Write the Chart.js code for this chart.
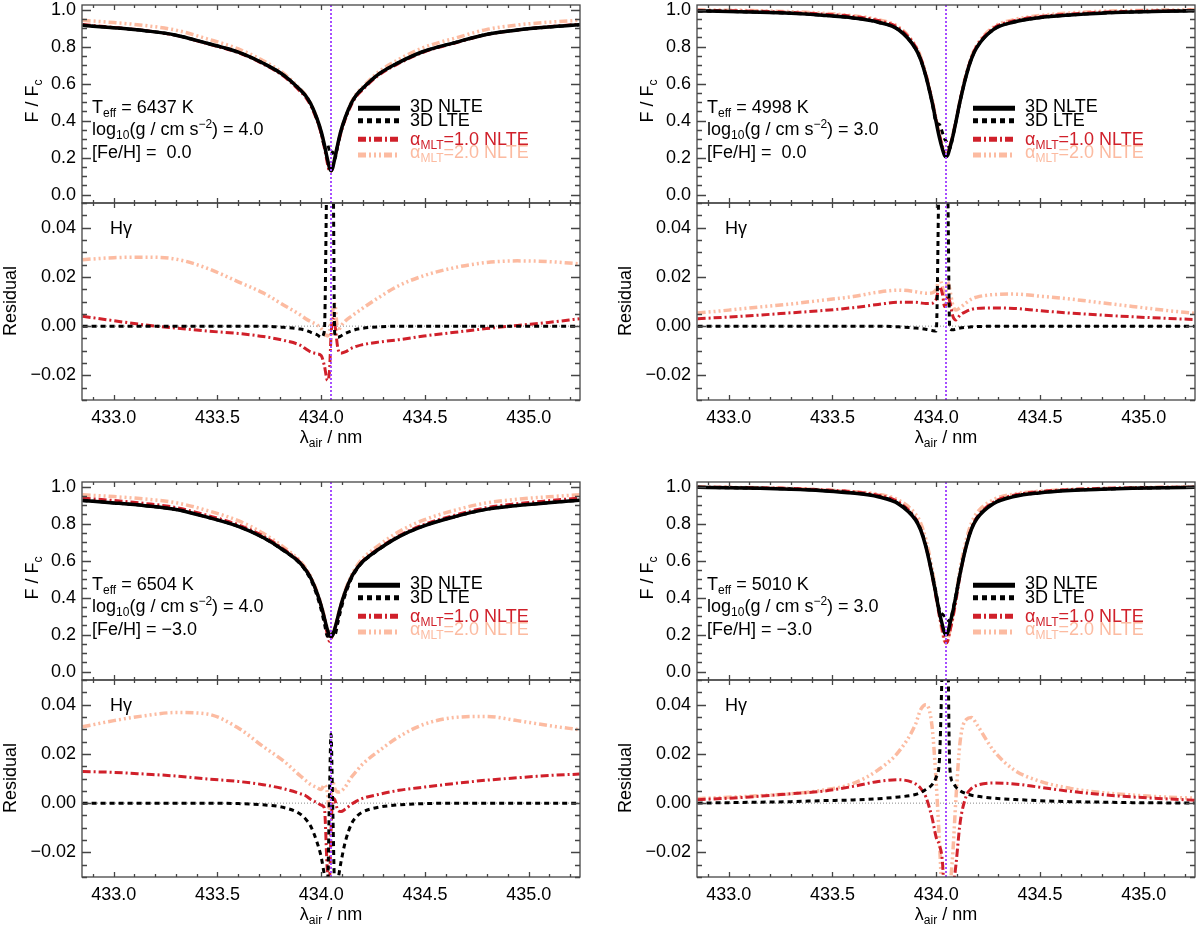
<!DOCTYPE html>
<html>
<head>
<meta charset="utf-8">
<title>H gamma line profiles</title>
<script src="https://cdn.jsdelivr.net/npm/chart.js@4.4.1/dist/chart.umd.min.js"></script>
<style>
  html, body { margin: 0; padding: 0; background: #fff; }
  body { width: 1200px; height: 927px; position: relative; overflow: hidden;
         font-family: "Liberation Sans", Arial, Helvetica, sans-serif; font-size: 18px; color: #000; }
  canvas { position: absolute; }
  .t   { position: absolute; white-space: nowrap; line-height: 1; transform: translateY(-50%); }
  .ctr { position: absolute; white-space: nowrap; line-height: 1; transform: translate(-50%, -50%); }
  .rot { position: absolute; white-space: nowrap; line-height: 1; transform: translate(-50%, -50%) rotate(-90deg); }
  sub { font-size: 12px; vertical-align: -4px; line-height: 0; }
  sup { font-size: 12px; vertical-align: 7px; line-height: 0; }
</style>
</head>
<body>
<script>
// wavelength grid, nm (air)
const lam = [432.85, 433.0, 433.15, 433.3, 433.45, 433.6, 433.72, 433.82, 433.9, 433.925, 433.95,
             433.98, 434.0, 434.015, 434.03, 434.04, 434.047, 434.055, 434.065, 434.08, 434.095, 434.115,
             434.145, 434.17, 434.195, 434.275, 434.375, 434.495, 434.645, 434.795, 434.945, 435.095, 435.245];
const lineCenter = 434.047;
const xMin = 432.847, xMax = 435.247;
const xTicks = [433.0, 433.5, 434.0, 434.5, 435.0];
const fluxTicks = [0.0, 0.2, 0.4, 0.6, 0.8, 1.0];
const residTicks = [-0.02, 0.0, 0.02, 0.04];
const fluxRange = [-0.045, 1.025];
const residRange = [-0.03, 0.05];

// stellar parameters of the four models
const teff = [6437, 4998, 6504, 5010];
const logg = [4.0, 3.0, 4.0, 3.0];
const feh = [0.0, 0.0, -3.0, -3.0];
const legendLabels = ['3D NLTE', '3D LTE', '&alpha;<sub>MLT</sub>=1.0 NLTE', '&alpha;<sub>MLT</sub>=2.0 NLTE'];

// --- model A: 6437 / 4.0 / 0.0
const nlteA = [0.915,0.902,0.886,0.862,0.818,0.77,0.71,0.645,0.565,0.535,0.49,
  0.41,0.34,0.27,0.19,0.145,0.13,0.145,0.195,0.275,0.345,0.415,
  0.495,0.54,0.57,0.65,0.715,0.775,0.822,0.866,0.89,0.906,0.918];
const lteA = [0.915,0.902,0.886,0.862,0.818,0.77,0.71,0.645,0.564,0.533,0.488,
  0.407,0.336,0.268,0.27,0.235,0.22,0.23,0.192,0.27,0.341,0.412,
  0.493,0.539,0.569,0.65,0.715,0.775,0.822,0.866,0.89,0.906,0.918];
const mlt1A = [0.919,0.904,0.887,0.861,0.816,0.767,0.706,0.639,0.557,0.526,0.48,
  0.399,0.328,0.254,0.168,0.127,0.126,0.148,0.196,0.266,0.334,0.405,
  0.486,0.532,0.562,0.644,0.71,0.771,0.82,0.865,0.89,0.908,0.921];
const mlt2A = [0.942,0.93,0.914,0.889,0.842,0.788,0.724,0.654,0.57,0.538,0.492,
  0.411,0.339,0.267,0.186,0.143,0.132,0.151,0.204,0.273,0.345,0.417,
  0.499,0.546,0.577,0.662,0.732,0.796,0.846,0.892,0.917,0.932,0.943];
const resLteA = [0,0,0,0,0,0,0,-0.0005,-0.0012,-0.0017,-0.0025,
  -0.0035,-0.0045,-0.002,0.08,0.09,0.09,0.085,-0.003,-0.0045,-0.004,-0.003,
  -0.002,-0.0013,-0.0009,-0.0003,0,0,0,0,0,0,0];
const resMlt1A = [0.004,0.0022,0.0005,-0.0008,-0.002,-0.003,-0.0042,-0.0058,-0.0078,-0.0092,-0.0105,
  -0.0112,-0.012,-0.016,-0.022,-0.018,-0.004,0.003,0.001,-0.009,-0.011,-0.0105,
  -0.009,-0.0082,-0.0076,-0.0065,-0.0055,-0.004,-0.0025,-0.001,0.0003,0.0015,0.003];
const resMlt2A = [0.027,0.0278,0.028,0.0272,0.0235,0.018,0.0135,0.0085,0.0045,0.003,0.0018,
  0.0005,-0.001,-0.003,-0.004,-0.002,0.002,0.006,0.009,-0.002,0.0,0.002,
  0.004,0.0055,0.007,0.0115,0.0165,0.0205,0.0238,0.0258,0.0265,0.0262,0.0253];

// --- model B: 4998 / 3.0 / 0.0
const nlteB = [0.993,0.99,0.986,0.98,0.97,0.955,0.932,0.89,0.79,0.73,0.64,
  0.5,0.39,0.31,0.245,0.212,0.205,0.213,0.25,0.315,0.395,0.505,
  0.645,0.735,0.795,0.892,0.933,0.956,0.971,0.981,0.987,0.991,0.994];
const lteB = [0.993,0.99,0.986,0.98,0.97,0.955,0.932,0.89,0.789,0.729,0.639,
  0.498,0.388,0.38,0.335,0.302,0.29,0.273,0.249,0.314,0.394,0.504,
  0.645,0.735,0.795,0.892,0.933,0.956,0.971,0.981,0.987,0.991,0.994];
const mlt1B = [0.996,0.994,0.991,0.985,0.976,0.963,0.941,0.9,0.8,0.739,0.649,
  0.509,0.401,0.326,0.258,0.22,0.214,0.225,0.26,0.319,0.398,0.51,
  0.651,0.742,0.802,0.899,0.94,0.962,0.976,0.986,0.991,0.994,0.997];
const mlt2B = [0.998,0.997,0.994,0.989,0.981,0.967,0.946,0.905,0.804,0.744,0.653,
  0.514,0.405,0.329,0.261,0.224,0.219,0.231,0.265,0.324,0.402,0.513,
  0.655,0.746,0.807,0.905,0.946,0.968,0.982,0.991,0.995,0.998,0.999];
const resLteB = [0,0,0,0,0,0,0,-0.0003,-0.0008,-0.001,-0.0013,
  -0.0018,-0.002,0.07,0.09,0.09,0.085,0.06,-0.001,-0.0015,-0.0012,-0.0008,
  -0.0005,-0.0003,-0.0002,0,0,0,0,0,0,0,0];
const resMlt1B = [0.003,0.0037,0.0045,0.0054,0.0063,0.0075,0.0088,0.0097,0.0097,0.0094,0.0092,
  0.0093,0.011,0.016,0.013,0.008,0.009,0.012,0.01,0.004,0.0025,0.0045,
  0.006,0.0068,0.0072,0.0074,0.0072,0.0063,0.0053,0.0045,0.0038,0.0032,0.0027];
const resMlt2B = [0.0053,0.0065,0.0078,0.009,0.0105,0.012,0.0138,0.0146,0.014,0.0136,0.0133,
  0.0135,0.015,0.019,0.016,0.012,0.014,0.018,0.015,0.0085,0.0065,0.0075,
  0.0095,0.011,0.0118,0.0128,0.013,0.0122,0.011,0.0095,0.008,0.0065,0.0052];

// --- model C: 6504 / 4.0 / -3.0
const nlteC = [0.925,0.912,0.897,0.876,0.835,0.785,0.725,0.655,0.585,0.55,0.505,
  0.425,0.355,0.29,0.225,0.195,0.19,0.197,0.23,0.295,0.36,0.43,
  0.51,0.555,0.59,0.66,0.73,0.788,0.838,0.877,0.898,0.913,0.926];
const lteC = [0.925,0.912,0.897,0.876,0.835,0.785,0.724,0.653,0.581,0.544,0.496,
  0.409,0.333,0.261,0.191,0.2,0.218,0.197,0.197,0.264,0.336,0.414,
  0.502,0.55,0.586,0.658,0.729,0.788,0.838,0.877,0.898,0.913,0.926];
const mlt1C = [0.938,0.925,0.909,0.887,0.845,0.794,0.733,0.661,0.589,0.553,0.507,
  0.425,0.354,0.288,0.197,0.164,0.178,0.199,0.232,0.292,0.357,0.428,
  0.51,0.556,0.592,0.664,0.735,0.795,0.846,0.886,0.908,0.924,0.938];
const mlt2C = [0.956,0.946,0.933,0.913,0.871,0.816,0.748,0.672,0.596,0.559,0.513,
  0.431,0.361,0.298,0.229,0.191,0.192,0.206,0.236,0.3,0.365,0.437,
  0.521,0.568,0.606,0.681,0.757,0.82,0.873,0.912,0.932,0.945,0.956];
const resLteC = [0,0,0,0,0,-0.0002,-0.0007,-0.0018,-0.0045,-0.0065,-0.0095,
  -0.016,-0.022,-0.029,-0.034,0.005,0.028,0.0,-0.033,-0.031,-0.024,-0.016,
  -0.0085,-0.0055,-0.0038,-0.0017,-0.0007,-0.0002,0,0,0,0,0];
const resMlt1C = [0.0128,0.0125,0.0118,0.011,0.0098,0.0088,0.0075,0.0058,0.0038,0.003,0.0015,
  0.0002,-0.0008,-0.002,-0.028,-0.031,-0.012,0.002,0.0015,-0.003,-0.0034,-0.0025,
  -0.0005,0.0008,0.0018,0.0035,0.0052,0.0065,0.008,0.0093,0.0103,0.0112,0.0118];
const resMlt2C = [0.031,0.0335,0.0355,0.0368,0.0362,0.0305,0.023,0.017,0.011,0.0092,0.0075,
  0.0063,0.0055,0.0075,0.004,-0.004,0.002,0.009,0.006,0.0045,0.0048,0.0065,
  0.0105,0.013,0.0155,0.021,0.027,0.032,0.0348,0.0352,0.0335,0.0315,0.0298];

// --- model D: 5010 / 3.0 / -3.0
const nlteD = [0.996,0.994,0.991,0.986,0.978,0.965,0.945,0.905,0.82,0.765,0.675,
  0.525,0.41,0.32,0.25,0.21,0.2,0.21,0.255,0.325,0.41,0.53,
  0.68,0.77,0.825,0.907,0.946,0.966,0.979,0.986,0.991,0.994,0.996];
const lteD = [0.996,0.994,0.991,0.987,0.979,0.966,0.947,0.908,0.824,0.769,0.681,
  0.533,0.421,0.337,0.31,0.3,0.29,0.28,0.27,0.334,0.417,0.535,
  0.684,0.773,0.828,0.909,0.948,0.967,0.98,0.986,0.991,0.994,0.996];
const mlt1D = [0.997,0.996,0.994,0.99,0.983,0.972,0.954,0.915,0.828,0.771,0.678,
  0.519,0.396,0.303,0.226,0.17,0.155,0.165,0.215,0.29,0.385,0.522,
  0.683,0.776,0.832,0.915,0.954,0.973,0.984,0.99,0.994,0.996,0.997];
const mlt2D = [0.998,0.996,0.994,0.99,0.983,0.973,0.959,0.926,0.852,0.803,0.715,
  0.556,0.418,0.305,0.21,0.165,0.155,0.17,0.22,0.305,0.412,0.555,
  0.714,0.805,0.857,0.929,0.96,0.975,0.985,0.99,0.994,0.997,0.998];
const resLteD = [0,0.0002,0.0004,0.0006,0.001,0.0013,0.0018,0.0025,0.0035,0.0043,0.0055,
  0.0075,0.0105,0.017,0.06,0.09,0.09,0.07,0.015,0.0085,0.0065,0.005,
  0.0038,0.0032,0.0028,0.002,0.0015,0.001,0.0006,0.0004,0.0002,0.0001,0];
const resMlt1D = [0.0014,0.002,0.0028,0.0038,0.0048,0.0068,0.0088,0.0095,0.0078,0.006,0.0025,
  -0.006,-0.014,-0.017,-0.024,-0.04,-0.045,-0.045,-0.04,-0.035,-0.025,-0.008,
  0.003,0.006,0.0072,0.0082,0.0078,0.0065,0.0048,0.0035,0.0025,0.0018,0.0012];
const resMlt2D = [0.0018,0.0024,0.003,0.0038,0.0052,0.008,0.0135,0.021,0.032,0.038,0.04,
  0.031,0.008,-0.015,-0.04,-0.045,-0.045,-0.04,-0.035,-0.02,0.002,0.025,
  0.034,0.0348,0.032,0.0215,0.0135,0.009,0.006,0.0043,0.0033,0.0025,0.002];

const models = [
  { nlte: nlteA, lte: lteA, mlt1: mlt1A, mlt2: mlt2A, dLte: resLteA, dMlt1: resMlt1A, dMlt2: resMlt2A },
  { nlte: nlteB, lte: lteB, mlt1: mlt1B, mlt2: mlt2B, dLte: resLteB, dMlt1: resMlt1B, dMlt2: resMlt2B },
  { nlte: nlteC, lte: lteC, mlt1: mlt1C, mlt2: mlt2C, dLte: resLteC, dMlt1: resMlt1C, dMlt2: resMlt2C },
  { nlte: nlteD, lte: lteD, mlt1: mlt1D, mlt2: mlt2D, dLte: resLteD, dMlt1: resMlt1D, dMlt2: resMlt2D }
];

// ---- page layout (pixels)
const frames = [ { left: 82, top: 5 }, { left: 697, top: 5 }, { left: 82, top: 482 }, { left: 697, top: 482 } ];
const PLOT_W = 498, FLUX_H = 198, RES_H = 197, AXIS_W = 82, X_AXIS_H = 32;

const RED = '#d0202a', PEACH = '#fcbba1', PURPLE = '#a64dff', FRAME = '#454545';
const DASH_LTE = [5, 4], DASH_M1 = [8, 3, 2, 3], DASH_M2 = [8, 3, 2, 3, 2, 3, 2, 3];

Chart.defaults.font.family = '"Liberation Sans", Arial, Helvetica, sans-serif';
Chart.defaults.font.size = 18;
Chart.defaults.color = '#000';

const pts = ys => lam.map((x, i) => ({ x: x, y: ys[i] }));
const fmt = (v, d) => (v < 0 ? '\u2212' : '') + Math.abs(v).toFixed(d);

// IDL-style box with inward ticks on all four sides
const framePlugin = {
  id: 'frame',
  afterDatasetsDraw(chart, args, o) {
    const { ctx, chartArea: a } = chart;
    const x = chart.scales.x, y = chart.scales.y;
    ctx.save();
    ctx.strokeStyle = FRAME;
    ctx.lineWidth = 1.3;
    ctx.setLineDash([]);
    ctx.beginPath();
    for (let k = Math.ceil(x.min * 10); k <= Math.floor(x.max * 10); k++) {
      const px = Math.round(x.getPixelForValue(k / 10)) + 0.5;
      const len = k % 5 === 0 ? 5 : 3;
      ctx.moveTo(px, a.bottom); ctx.lineTo(px, a.bottom - len);
      ctx.moveTo(px, a.top); ctx.lineTo(px, a.top + len);
    }
    for (let k = Math.ceil(y.min / o.yStep - 1e-9); k <= Math.floor(y.max / o.yStep + 1e-9); k++) {
      const py = Math.round(y.getPixelForValue(k * o.yStep)) + 0.5;
      const len = k % 4 === 0 ? 9 : 5;
      ctx.moveTo(a.left, py); ctx.lineTo(a.left + len, py);
      ctx.moveTo(a.right, py); ctx.lineTo(a.right - len, py);
    }
    ctx.stroke();
    ctx.strokeRect(a.left, a.top, a.right - a.left, a.bottom - a.top);
    ctx.restore();
  }
};

// short line samples next to the legend text
const samplePlugin = {
  id: 'samples',
  afterDraw(chart, args, o) {
    if (!o.rows) return;
    const { ctx, chartArea: a } = chart;
    ctx.save();
    o.rows.forEach(r => {
      const ds = chart.data.datasets[r.ds];
      ctx.strokeStyle = ds.borderColor;
      ctx.lineWidth = 5;
      ctx.setLineDash(ds.borderDash || []);
      ctx.beginPath();
      ctx.moveTo(a.left + o.x0, a.top + r.y);
      ctx.lineTo(a.left + o.x1, a.top + r.y);
      ctx.stroke();
    });
    ctx.restore();
  }
};

function xScale(show) {
  return {
    type: 'linear', min: xMin, max: xMax, display: show,
    grid: { display: false, drawTicks: false }, border: { display: false },
    ticks: { padding: 7, maxRotation: 0, autoSkip: false, callback: v => v.toFixed(1) },
    afterBuildTicks: s => { s.ticks = xTicks.map(v => ({ value: v })); },
    afterFit: s => { if (show) s.height = X_AXIS_H; s.paddingLeft = 0; s.paddingRight = 0; }
  };
}

function yScale(range, ticks, digits) {
  return {
    type: 'linear', min: range[0], max: range[1],
    grid: { display: false, drawTicks: false }, border: { display: false },
    ticks: { padding: 6, callback: v => fmt(v, digits) },
    afterBuildTicks: s => { s.ticks = ticks.map(v => ({ value: v })); },
    afterFit: s => { s.width = AXIS_W; s.paddingTop = 0; s.paddingBottom = 0; }
  };
}

function makeCanvas(left, top, w, h) {
  const c = document.createElement('canvas');
  c.width = w; c.height = h;
  c.style.left = left + 'px'; c.style.top = top + 'px';
  c.style.width = w + 'px'; c.style.height = h + 'px';
  document.body.appendChild(c);
  return c;
}

function line(data, color, width, dash, order) {
  return { data: pts(data), borderColor: color, borderWidth: width, borderDash: dash,
           pointRadius: 0, cubicInterpolationMode: 'monotone', fill: false, order: order, clip: 0 };
}

function vline(range) {
  return { data: [{ x: lineCenter, y: range[0] }, { x: lineCenter, y: range[1] }],
           borderColor: PURPLE, borderWidth: 2, borderDash: [2, 2], pointRadius: 0, order: 0, clip: 0 };
}

function baseOptions(padding) {
  return {
    responsive: false, animation: false, events: [],
    layout: { padding: padding },
    plugins: { legend: { display: false }, tooltip: { enabled: false } }
  };
}

function addText(html, x, y, cls, color) {
  const d = document.createElement('div');
  d.className = cls;
  d.innerHTML = html;
  d.style.left = x + 'px';
  d.style.top = y + 'px';
  if (color) d.style.color = color;
  document.body.appendChild(d);
}

models.forEach((m, i) => {
  const L = frames[i].left, T = frames[i].top;
  const D = T + FLUX_H, B = D + RES_H;

  // flux panel
  const fc = makeCanvas(L - AXIS_W, T - 5, AXIS_W + PLOT_W + 8, FLUX_H + 13);
  const fOpt = baseOptions({ top: 5, bottom: 8, left: 0, right: 8 });
  fOpt.scales = { x: xScale(false), y: yScale(fluxRange, fluxTicks, 1) };
  fOpt.plugins.frame = { yStep: 0.05 };
  fOpt.plugins.samples = { x0: 276, x1: 318,
    rows: [ { ds: 1, y: 103.3 }, { ds: 2, y: 115.7 }, { ds: 3, y: 134.3 }, { ds: 4, y: 150 } ] };
  new Chart(fc, {
    type: 'line',
    data: { datasets: [
      vline(fluxRange),
      line(m.nlte, '#000', 3.5, [], 1),
      line(m.lte, '#000', 3, DASH_LTE, 2),
      line(m.mlt1, RED, 3, DASH_M1, 3),
      line(m.mlt2, PEACH, 3.5, DASH_M2, 4)
    ] },
    options: fOpt,
    plugins: [framePlugin, samplePlugin]
  });

  // residual panel
  const rc = makeCanvas(L - AXIS_W, D - 12, AXIS_W + PLOT_W + 8, RES_H + 12 + X_AXIS_H);
  const rOpt = baseOptions({ top: 12, bottom: 0, left: 0, right: 8 });
  rOpt.scales = { x: xScale(true), y: yScale(residRange, residTicks, 2) };
  rOpt.plugins.frame = { yStep: 0.005 };
  new Chart(rc, {
    type: 'line',
    data: { datasets: [
      vline(residRange),
      line(m.dLte, '#000', 3, DASH_LTE, 2),
      line(m.dMlt1, RED, 3, DASH_M1, 3),
      line(m.dMlt2, PEACH, 3.5, DASH_M2, 4),
      { data: [{ x: xMin, y: 0 }, { x: xMax, y: 0 }], borderColor: '#888', borderWidth: 1,
        borderDash: [1, 2], pointRadius: 0, order: 5, clip: 0 }
    ] },
    options: rOpt,
    plugins: [framePlugin]
  });

  // axis titles
  addText('F / F<sub>c</sub>', L - 50, T + 96, 'rot');
  addText('Residual', L - 72, D + 98, 'rot');
  addText('&lambda;<sub>air</sub> / nm', L + PLOT_W / 2, B + 37, 'ctr');

  // model parameters
  const fehTxt = feh[i] < 0 ? '\u2212' + Math.abs(feh[i]).toFixed(1) : '&nbsp;' + feh[i].toFixed(1);
  addText('T<sub>eff</sub> = ' + teff[i] + ' K', L + 10, T + 102, 't');
  addText('log<sub>10</sub>(g / cm s<sup>\u22122</sup>) = ' + logg[i].toFixed(1), L + 10, T + 124, 't');
  addText('[Fe/H] = ' + fehTxt, L + 10, T + 147, 't');

  // legend text
  const rowsY = [101.3, 115, 133.8, 147.2];
  const rowsC = ['#000', '#000', RED, PEACH];
  legendLabels.forEach((s, k) => addText(s, L + 328, T + rowsY[k], 't', rowsC[k]));

  addText('H&gamma;', L + 28, D + 25, 't');
});
</script>
</body>
</html>
